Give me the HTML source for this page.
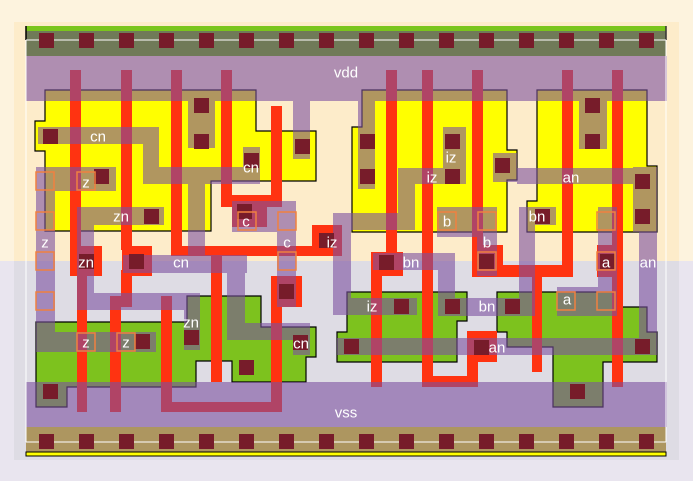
<!DOCTYPE html>
<html><head><meta charset="utf-8"><style>
html,body{margin:0;padding:0;background:#e9e5ef}
svg{display:block}
text{font-family:"Liberation Sans",sans-serif;font-size:15px;fill:#fff;text-anchor:middle;dominant-baseline:central}
</style></head><body>
<svg width="693" height="481" viewBox="0 0 693 481" xmlns="http://www.w3.org/2000/svg">
<!-- background -->
<rect x="0" y="0" width="693" height="261" fill="#fdf3de"/>
<rect x="0" y="261" width="693" height="220" fill="#e9e5ef"/>
<rect x="14" y="22" width="665" height="239" fill="#fdecca"/>
<rect x="14" y="261" width="665" height="199" fill="#dedce4"/>

<!-- P diffusion (yellow) -->
<g fill="#ffff00" stroke="#000" stroke-width="1.2">
<polygon points="45,90 256,90 256,131 316,131 316,181 211,181 211,231 45,231 45,151 35,151 35,121 45,121"/>
<polygon points="362,90 507,90 507,150 517,150 517,180 507,180 507,232 352,232 352,127 362,127"/>
<polygon points="537,90 647,90 647,166 657,166 657,232 527,232 527,201 537,201"/>
</g>
<!-- N diffusion (green) -->
<g fill="#7dc21e" stroke="#000" stroke-width="1.2">
<polygon points="36,322 187,322 187,296 261,296 261,327 316,327 316,357 306,357 306,382 232,382 232,361 196,361 196,387 67,387 67,407 36,407"/>
<polygon points="347,292 467,292 467,321 457,321 457,362 337,362 337,332 347,332"/>
<polygon points="497,292 617,292 617,307 647,307 647,332 657,332 657,362 603,362 603,407 553,407 553,347 507,347 507,332 497,332"/>
</g>

<!-- rails -->
<rect x="26" y="26" width="640" height="5" fill="#7ac51c"/>
<rect x="26" y="31" width="640" height="25" fill="#707a58"/>
<line x1="26" y1="26" x2="26" y2="40" stroke="#000" stroke-width="1.5"/>
<line x1="666" y1="26" x2="666" y2="40" stroke="#333" stroke-width="1.5"/>
<rect x="26" y="427" width="640" height="25" fill="#ad9660"/>
<rect x="26" y="452" width="640" height="4" fill="#ffff00" stroke="#000" stroke-width="1"/>

<!-- poly -->
<g fill="#ff3311">
<rect x="70" y="70" width="11" height="180"/>
<rect x="70" y="246" width="32" height="30"/>
<rect x="77" y="270" width="10" height="142"/>
<rect x="121" y="70" width="11" height="180"/>
<rect x="122" y="246" width="30" height="30"/>
<rect x="121" y="270" width="11" height="37"/>
<rect x="110" y="296" width="22" height="11"/>
<rect x="110" y="296" width="11" height="116"/>
<rect x="171" y="70" width="11" height="186"/>
<rect x="171" y="246" width="160" height="10"/>
<rect x="312" y="225" width="30" height="31"/>
<rect x="211" y="246" width="11" height="136"/>
<rect x="221" y="70" width="11" height="137"/>
<rect x="221" y="195" width="61" height="12"/>
<rect x="271" y="106" width="11" height="101"/>
<rect x="232" y="200" width="35" height="27"/>
<rect x="272" y="276" width="30" height="31"/>
<rect x="271" y="276" width="11" height="136"/>
<rect x="161" y="296" width="11" height="116"/>
<rect x="161" y="402" width="121" height="10"/>
<rect x="386" y="70" width="11" height="185"/>
<rect x="372" y="252" width="31" height="24"/>
<rect x="371" y="252" width="11" height="135"/>
<rect x="422" y="70" width="11" height="317"/>
<rect x="422" y="376" width="55" height="11"/>
<rect x="467" y="331" width="11" height="56"/>
<rect x="467" y="331" width="30" height="31"/>
<rect x="472" y="70" width="11" height="185"/>
<rect x="472" y="245" width="31" height="32"/>
<rect x="472" y="265" width="101" height="12"/>
<rect x="532" y="265" width="10" height="107"/>
<rect x="562" y="70" width="11" height="207"/>
<rect x="597" y="245" width="26" height="32"/>
<rect x="612" y="70" width="11" height="317"/>
</g>

<!-- metal -->
<g fill="rgba(123,80,160,0.6)">
<rect x="26" y="56" width="641" height="45"/>
<rect x="26" y="382" width="641" height="45"/>
<rect x="188" y="101" width="27" height="47"/>
<rect x="293" y="101" width="17" height="58"/>
<!-- cn -->
<rect x="38" y="127" width="121" height="17"/>
<rect x="143" y="144" width="16" height="23"/>
<rect x="143" y="167" width="117" height="17"/>
<rect x="243" y="147" width="17" height="20"/>
<rect x="188" y="184" width="17" height="71"/>
<rect x="123" y="255" width="124" height="18"/>
<rect x="227" y="273" width="18" height="50"/>
<rect x="227" y="323" width="66" height="17"/>
<rect x="293" y="323" width="17" height="32"/>
<!-- z -->
<rect x="36" y="167" width="80" height="24"/>
<rect x="36" y="191" width="19" height="141"/>
<rect x="36" y="332" width="120" height="20"/>
<!-- zn -->
<rect x="77" y="207" width="87" height="18"/>
<rect x="77" y="225" width="17" height="68"/>
<rect x="77" y="293" width="123" height="17"/>
<rect x="184" y="310" width="16" height="40"/>
<!-- c -->
<rect x="232" y="201" width="45" height="31"/>
<rect x="277" y="201" width="19" height="106"/>
<!-- iz -->
<rect x="443" y="127" width="23" height="41"/>
<rect x="398" y="168" width="68" height="16"/>
<rect x="398" y="184" width="17" height="46"/>
<rect x="333" y="213" width="65" height="17"/>
<rect x="333" y="230" width="18" height="68"/>
<rect x="333" y="298" width="84" height="17"/>
<!-- vdd stubs right -->
<rect x="358" y="101" width="17" height="88"/>
<rect x="579" y="101" width="28" height="48"/>
<!-- an -->
<rect x="493" y="153" width="24" height="29"/>
<rect x="517" y="168" width="116" height="16"/>
<rect x="633" y="167" width="24" height="65"/>
<rect x="639" y="232" width="18" height="106"/>
<rect x="337" y="338" width="320" height="17"/>
<!-- b -->
<rect x="437" y="207" width="40" height="30"/>
<rect x="477" y="207" width="20" height="69"/>
<!-- bn -->
<rect x="373" y="253" width="65" height="17"/>
<rect x="438" y="253" width="17" height="45"/>
<rect x="438" y="298" width="97" height="18"/>
<rect x="519" y="207" width="16" height="91"/>
<rect x="535" y="207" width="21" height="18"/>
<!-- a -->
<rect x="598" y="207" width="19" height="80"/>
<rect x="557" y="287" width="60" height="29"/>
</g>

<line x1="26" y1="40" x2="666" y2="40" stroke="#fff" stroke-width="1"/>
<line x1="26" y1="442" x2="666" y2="442" stroke="#fff" stroke-width="1"/>
<line x1="26" y1="40" x2="26" y2="442" stroke="#fff" stroke-width="1"/>
<line x1="666" y1="40" x2="666" y2="442" stroke="#fff" stroke-width="1"/>

<!-- contacts -->
<g fill="#771c2a">
<rect x="39" y="33" width="15" height="15"/><rect x="79" y="33" width="15" height="15"/><rect x="119" y="33" width="15" height="15"/><rect x="159" y="33" width="15" height="15"/><rect x="199" y="33" width="15" height="15"/><rect x="239" y="33" width="15" height="15"/><rect x="279" y="33" width="15" height="15"/><rect x="319" y="33" width="15" height="15"/><rect x="359" y="33" width="15" height="15"/><rect x="399" y="33" width="15" height="15"/><rect x="439" y="33" width="15" height="15"/><rect x="479" y="33" width="15" height="15"/><rect x="519" y="33" width="15" height="15"/><rect x="559" y="33" width="15" height="15"/><rect x="599" y="33" width="15" height="15"/><rect x="639" y="33" width="15" height="15"/>
<rect x="39" y="434" width="15" height="15"/><rect x="79" y="434" width="15" height="15"/><rect x="119" y="434" width="15" height="15"/><rect x="159" y="434" width="15" height="15"/><rect x="199" y="434" width="15" height="15"/><rect x="239" y="434" width="15" height="15"/><rect x="279" y="434" width="15" height="15"/><rect x="319" y="434" width="15" height="15"/><rect x="359" y="434" width="15" height="15"/><rect x="399" y="434" width="15" height="15"/><rect x="439" y="434" width="15" height="15"/><rect x="479" y="434" width="15" height="15"/><rect x="519" y="434" width="15" height="15"/><rect x="559" y="434" width="15" height="15"/><rect x="599" y="434" width="15" height="15"/><rect x="639" y="434" width="15" height="15"/>
<rect x="43" y="129" width="15" height="15"/><rect x="194" y="98" width="15" height="15"/><rect x="194" y="134" width="15" height="15"/><rect x="295" y="139" width="15" height="15"/><rect x="244" y="153" width="15" height="15"/><rect x="94" y="169" width="15" height="15"/><rect x="144" y="209" width="15" height="15"/><rect x="237" y="204" width="15" height="15"/><rect x="79" y="254" width="15" height="15"/><rect x="129" y="254" width="15" height="15"/><rect x="319" y="233" width="15" height="15"/><rect x="279" y="284" width="15" height="15"/><rect x="184" y="330" width="15" height="15"/><rect x="135" y="334" width="15" height="15"/><rect x="43" y="384" width="15" height="15"/><rect x="239" y="360" width="15" height="15"/><rect x="293" y="335" width="15" height="15"/>
<rect x="360" y="134" width="15" height="15"/><rect x="360" y="169" width="15" height="15"/><rect x="445" y="134" width="15" height="15"/><rect x="445" y="169" width="15" height="15"/><rect x="495" y="158" width="15" height="15"/><rect x="585" y="98" width="15" height="15"/><rect x="585" y="134" width="15" height="15"/><rect x="635" y="174" width="15" height="15"/><rect x="635" y="209" width="15" height="15"/><rect x="535" y="209" width="15" height="15"/><rect x="379" y="255" width="15" height="15"/><rect x="479" y="254" width="15" height="15"/><rect x="600" y="254" width="15" height="15"/><rect x="445" y="299" width="15" height="15"/><rect x="505" y="299" width="15" height="15"/><rect x="394" y="299" width="15" height="15"/><rect x="344" y="339" width="15" height="15"/><rect x="474" y="340" width="15" height="15"/><rect x="635" y="339" width="15" height="15"/><rect x="570" y="384" width="15" height="15"/>
</g>

<!-- pins -->
<g fill="none" stroke="#f08040" stroke-width="1.5">
<rect x="36" y="172" width="18" height="18"/><rect x="77" y="172" width="18" height="18"/><rect x="36" y="212" width="18" height="18"/><rect x="36" y="252" width="18" height="18"/><rect x="36" y="292" width="18" height="18"/><rect x="238" y="212" width="18" height="18"/><rect x="278" y="212" width="18" height="18"/><rect x="278" y="252" width="18" height="18"/><rect x="77" y="333" width="18" height="18"/><rect x="117" y="333" width="18" height="18"/><rect x="438" y="212" width="18" height="18"/><rect x="478" y="212" width="18" height="18"/><rect x="478" y="252" width="18" height="18"/><rect x="597" y="212" width="18" height="18"/><rect x="597" y="252" width="18" height="18"/><rect x="557" y="292" width="18" height="18"/><rect x="597" y="292" width="18" height="18"/>
</g>

<!-- labels -->
<text x="346" y="73">vdd</text>
<text x="346" y="413">vss</text>
<text x="98" y="137">cn</text>
<text x="251" y="168">cn</text>
<text x="86" y="183">z</text>
<text x="121" y="217">zn</text>
<text x="246" y="222">c</text>
<text x="45" y="243">z</text>
<text x="287" y="243">c</text>
<text x="332" y="243">iz</text>
<text x="86" y="263">zn</text>
<text x="181" y="263">cn</text>
<text x="191" y="323">zn</text>
<text x="86" y="343">z</text>
<text x="126" y="343">z</text>
<text x="301" y="344">cn</text>
<text x="451" y="158">iz</text>
<text x="432" y="178">iz</text>
<text x="571" y="178">an</text>
<text x="447" y="222">b</text>
<text x="537" y="217">bn</text>
<text x="487" y="243">b</text>
<text x="411" y="263">bn</text>
<text x="606" y="263">a</text>
<text x="648" y="263">an</text>
<text x="567" y="300">a</text>
<text x="372" y="307">iz</text>
<text x="487" y="307">bn</text>
<text x="497" y="348">an</text>
</svg>
</body></html>
